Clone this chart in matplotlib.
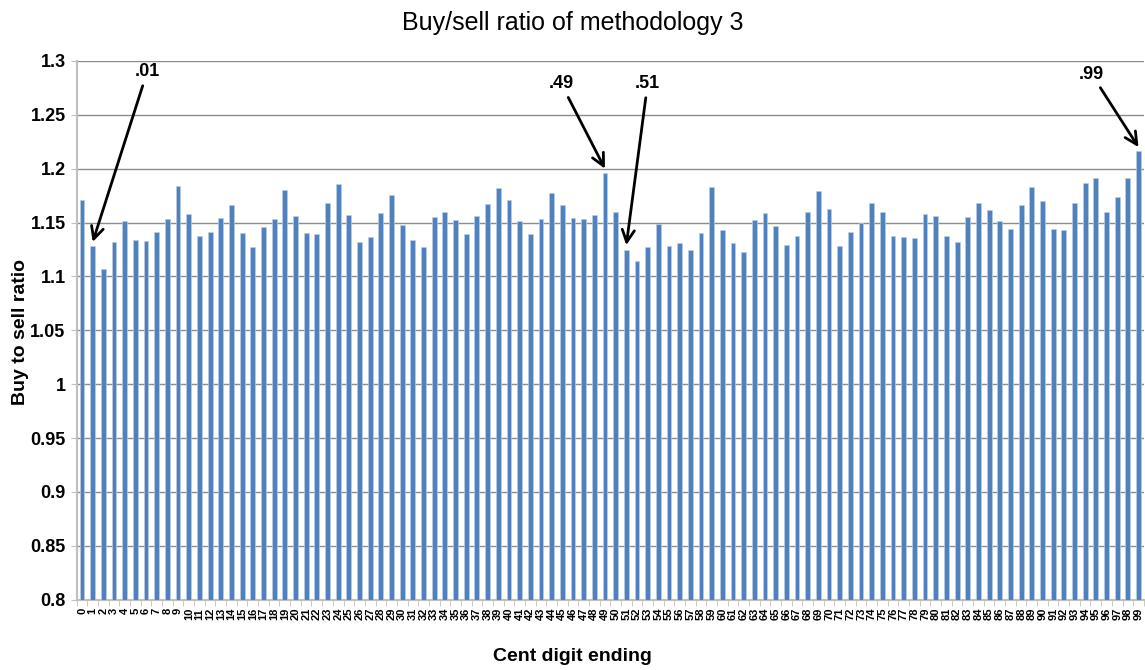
import numpy as np
import matplotlib
matplotlib.use('Agg')
import matplotlib.pyplot as plt
from matplotlib.ticker import FixedLocator, MultipleLocator

plt.rcParams['font.family'] = ['Liberation Sans Narrow', 'Liberation Sans', 'DejaVu Sans']

# cent digit endings 0..99 and buy/sell ratio
cents = list(range(100))
ratios = [
    1.171, 1.128, 1.107, 1.132, 1.151, 1.134, 1.133, 1.141, 1.153, 1.184,
    1.158, 1.138, 1.141, 1.154, 1.166, 1.140, 1.127, 1.146, 1.153, 1.180,
    1.156, 1.140, 1.139, 1.168, 1.186, 1.157, 1.132, 1.137, 1.159, 1.176,
    1.148, 1.134, 1.127, 1.155, 1.160, 1.152, 1.139, 1.156, 1.167, 1.182,
    1.171, 1.151, 1.139, 1.153, 1.177, 1.166, 1.154, 1.153, 1.157, 1.196,
    1.160, 1.125, 1.114, 1.127, 1.149, 1.128, 1.131, 1.125, 1.140, 1.183,
    1.143, 1.131, 1.123, 1.152, 1.159, 1.147, 1.129, 1.138, 1.160, 1.179,
    1.163, 1.128, 1.141, 1.150, 1.168, 1.160, 1.138, 1.137, 1.136, 1.158,
    1.156, 1.138, 1.132, 1.155, 1.168, 1.162, 1.151, 1.144, 1.166, 1.183,
    1.170, 1.144, 1.143, 1.168, 1.187, 1.191, 1.160, 1.174, 1.191, 1.216,
]

# highlighted endings
marked = [1, 49, 51, 99]
marked_labels = ['.01', '.49', '.51', '.99']
# where each label text sits (data coords)
label_pos = [(6.1, 1.282), (44.9, 1.271), (53.0, 1.271), (94.6, 1.280)]

fig = plt.figure(figsize=(11.45, 6.7), dpi=100)
ax = fig.add_axes([0.067, 0.105, 0.932, 0.804])

ax.bar(cents, ratios, width=0.45, color='#4F81BD', edgecolor='#B9CDE5',
       linewidth=0.5, zorder=3)

ax.set_ylim(0.8, 1.3)
ax.set_xlim(-0.5, 99.5)
yt = np.round(np.arange(0.8, 1.3001, 0.05), 2)
ax.set_yticks(yt)
ax.set_yticklabels(['%g' % v for v in yt], fontsize=13, fontweight='bold')
ax.yaxis.grid(True, color='#8C8C8C', linewidth=1.0, zorder=0)

ax.set_xticks(cents)
ax.set_xticklabels([str(c) for c in cents], rotation=90, fontsize=8,
                   fontweight='bold', family=['Liberation Sans', 'DejaVu Sans'])
ax.tick_params(axis='x', length=0, pad=6)
ax.xaxis.set_minor_locator(FixedLocator(np.arange(-0.5, 100, 1)))
ax.tick_params(axis='x', which='minor', length=4, color='#BFBFBF')
ax.tick_params(axis='y', length=4, color='#BFBFBF', pad=4)

for s in ['top', 'right']:
    ax.spines[s].set_visible(False)
ax.spines['left'].set_color('#BFBFBF')
ax.spines['left'].set_linewidth(1.5)
ax.spines['bottom'].set_color('#BFBFBF')
ax.spines['bottom'].set_linewidth(1.5)

for i, lab, pos in zip(marked, marked_labels, label_pos):
    ax.annotate(lab, xy=(cents[i], ratios[i] + 0.004), xytext=pos,
                textcoords='data', ha='center', va='bottom',
                fontsize=13, fontweight='bold',
                arrowprops=dict(arrowstyle='->', lw=2, color='black',
                                mutation_scale=22, shrinkA=2, shrinkB=0))

fig.text(0.5, 0.965, 'Buy/sell ratio of methodology 3', ha='center', va='center',
         fontsize=18, family=['Liberation Sans', 'DejaVu Sans'])
fig.text(0.5, 0.02, 'Cent digit ending', ha='center', va='center',
         fontsize=14, fontweight='bold')
fig.text(0.018, 0.505, 'Buy to sell ratio', ha='center', va='center',
         rotation=90, fontsize=14, fontweight='bold')

fig.savefig('out.png', dpi=100)
